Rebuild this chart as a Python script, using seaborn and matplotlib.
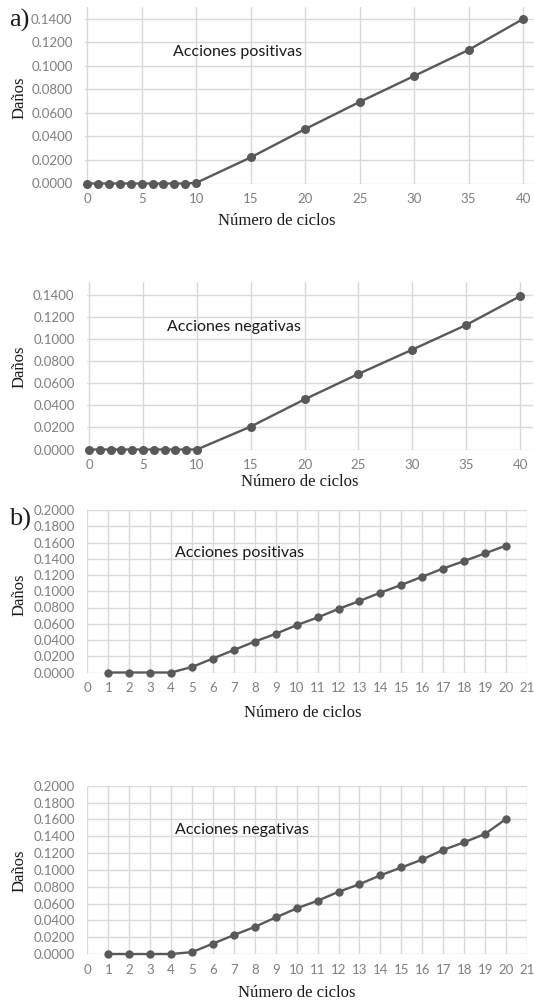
import matplotlib
matplotlib.use("Agg")
import matplotlib.pyplot as plt
import seaborn as sns
import pandas as pd

# ---------------- data ----------------
a_cycles = [0, 1, 2, 3, 4, 5, 6, 7, 8, 9, 10, 15, 20, 25, 30, 35, 40]
a_pos = [0.0, 0.0, 0.0, 0.0, 0.0, 0.0, 0.0, 0.0, 0.0, 0.0, 0.0005,
         0.0222, 0.0463, 0.0694, 0.0915, 0.1137, 0.1400]
a_neg = [0.0, 0.0, 0.0, 0.0, 0.0, 0.0, 0.0, 0.0, 0.0, 0.0, 0.0,
         0.0207, 0.0453, 0.0683, 0.0902, 0.1125, 0.1385]

b_cycles = [1, 2, 3, 4, 5, 6, 7, 8, 9, 10, 11, 12, 13, 14, 15, 16, 17, 18, 19, 20]
b_pos = [0.0, 0.0, 0.0, 0.0, 0.0068, 0.0172, 0.0277, 0.0381, 0.0476, 0.0583,
         0.0677, 0.0783, 0.0880, 0.0983, 0.1078, 0.1180, 0.1280, 0.1372, 0.1467, 0.1562]
b_neg = [0.0, 0.0, 0.0, 0.0, 0.0022, 0.0123, 0.0225, 0.0322, 0.0435, 0.0542,
         0.0633, 0.0739, 0.0830, 0.0935, 0.1028, 0.1123, 0.1237, 0.1328, 0.1427, 0.1605]

a_xticks = [0, 5, 10, 15, 20, 25, 30, 35, 40]
a_yticks = [0.0, 0.02, 0.04, 0.06, 0.08, 0.10, 0.12, 0.14]
a_ylabels = ["0.0000", "0.0200", "0.0400", "0.0600", "0.0800", "0.1000", "0.1200", "0.1400"]
b_xticks = [0, 1, 2, 3, 4, 5, 6, 7, 8, 9, 10, 11, 12, 13, 14, 15, 16, 17, 18, 19, 20, 21]
b_yticks = [0.0, 0.02, 0.04, 0.06, 0.08, 0.10, 0.12, 0.14, 0.16, 0.18, 0.20]
b_ylabels = ["0.0000", "0.0200", "0.0400", "0.0600", "0.0800", "0.1000",
             "0.1200", "0.1400", "0.1600", "0.1800", "0.2000"]

titles = ["Acciones positivas", "Acciones negativas", "Acciones positivas", "Acciones negativas"]
xlab = "Número de ciclos"
ylab = "Daños"

# ---------------- style ----------------
sns.set_style("white")
plt.rcParams["font.family"] = ["Lato", "DejaVu Sans"]

W, H = 534, 1001
fig = plt.figure(figsize=(W / 100, H / 100), dpi=100)

LINE = "#595959"
GRID = "#d9d9d9"
TICK = "#7f7f7f"
SERIF = ["Liberation Serif", "DejaVu Serif"]


def px_axes(left, right, top, bottom):
    return fig.add_axes([left / W, 1 - bottom / H, (right - left) / W, (bottom - top) / H])


panels = [
    # (x, y, xticks, yticks, ylabels, xlim, ylim, axes px (l, r, t, b), ms)
    (a_cycles, a_pos, a_xticks, a_yticks, a_ylabels, (-0.2, 41.0), (0, 0.1502), (85, 534, 7, 183.5), 6.5),
    (a_cycles, a_neg, a_xticks, a_yticks, a_ylabels, (-0.2, 41.2), (0, 0.1513), (87, 533, 282, 449.5), 6.5),
    (b_cycles, b_pos, b_xticks, b_yticks, b_ylabels, (0, 21), (0, 0.2), (87.3, 527, 510, 672.5), 6.0),
    (b_cycles, b_neg, b_xticks, b_yticks, b_ylabels, (0, 21), (0, 0.2), (87.3, 527, 785.7, 954), 6.0),
]

for (xs, ys, xt, yt, yl, xlim, ylim, box, ms) in panels:
    ax = px_axes(*box)
    df = pd.DataFrame({"ciclos": xs, "danos": ys})
    sns.lineplot(data=df, x="ciclos", y="danos", ax=ax, color=LINE, linewidth=1.7,
                 marker="o", markersize=ms, markeredgewidth=0, markeredgecolor=LINE,
                 clip_on=False, zorder=3)
    ax.set_xlim(*xlim)
    ax.set_ylim(*ylim)
    ax.set_xticks(xt)
    ax.set_yticks(yt)
    ax.set_yticklabels(yl)
    ax.set_xlabel("")
    ax.set_ylabel("")
    ax.grid(True, color=GRID, linewidth=1.0)
    ax.set_axisbelow(True)
    for s in ax.spines.values():
        s.set_visible(False)
    ax.tick_params(axis="both", length=0, labelsize=9.5, labelcolor=TICK)
    ax.tick_params(axis="y", pad=9)
    ax.tick_params(axis="x", pad=7)

# panel texts (positions in pixels)
title_pos = [(238, 51.7), (234, 326.7), (240, 553.3), (242, 830)]
for t, (x, y) in zip(titles, title_pos):
    fig.text(x / W, 1 - y / H, t, ha="center", va="center", fontsize=11.5, color="#1a1a1a")

xlab_pos = [(277, 221), (300, 482), (303, 713), (297, 993)]
for (x, y) in xlab_pos:
    fig.text(x / W, 1 - y / H, xlab, ha="center", va="center", fontsize=12,
             family=SERIF, color="#1a1a1a")

ylab_pos = [(20, 98), (20, 366.7), (20, 595), (20, 870.7)]
for (x, y) in ylab_pos:
    fig.text(x / W, 1 - y / H, ylab, ha="center", va="center", fontsize=12,
             family=SERIF, rotation=90, color="#1a1a1a")

fig.text(19 / W, 1 - 20 / H, "a)", ha="center", va="center", fontsize=19, family=SERIF, color="#1a1a1a")
fig.text(20 / W, 1 - 519 / H, "b)", ha="center", va="center", fontsize=19, family=SERIF, color="#1a1a1a")

fig.savefig("out.png", dpi=100)
